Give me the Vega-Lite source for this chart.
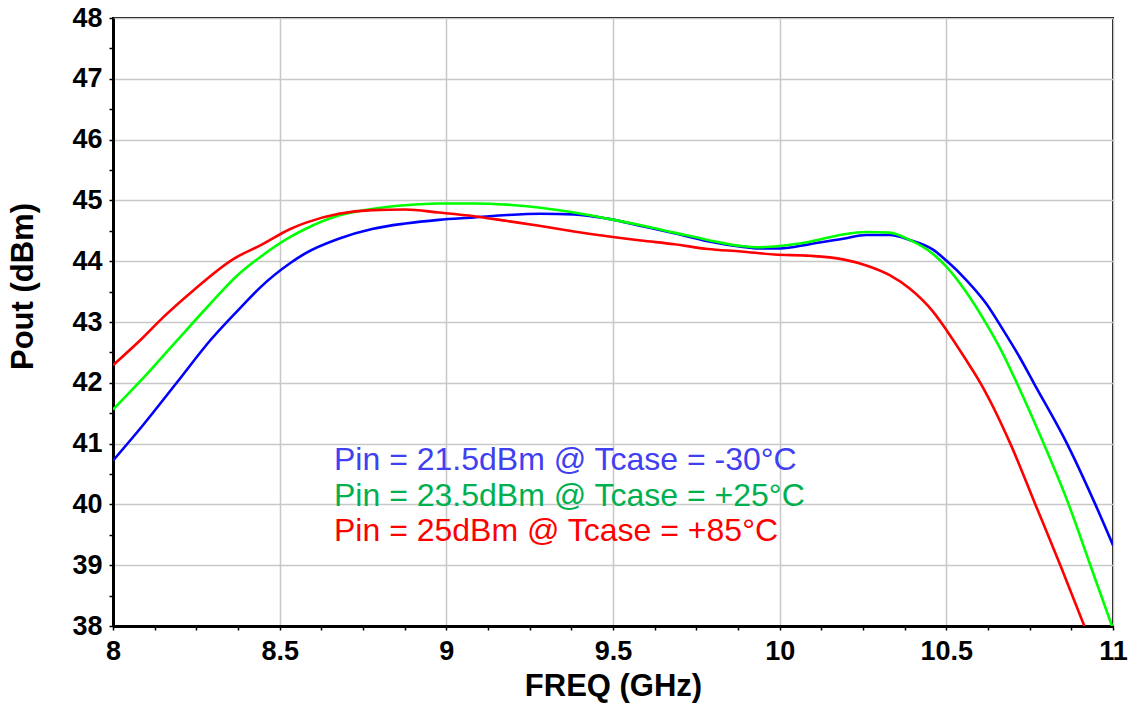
{
  "$schema": "https://vega.github.io/schema/vega-lite/v6.json",
  "width": 1000,
  "height": 608,
  "autosize": {"type": "none"},
  "padding": {"left": 113, "top": 18, "right": 21, "bottom": 80},
  "background": "white",
  "config": {
    "font": "Liberation Sans",
    "view": {"stroke": "black", "strokeWidth": 2},
    "axis": {
      "domainColor": "black",
      "domainWidth": 3,
      "tickColor": "black",
      "tickWidth": 1.5,
      "tickSize": 4,
      "gridColor": "#c8c8c8",
      "gridWidth": 1.5,
      "labelFont": "Liberation Sans",
      "labelFontWeight": "bold",
      "labelFontSize": 27,
      "labelColor": "black",
      "labelOverlap": false,
      "labelFlush": false,
      "labelBound": false,
      "titleFont": "Liberation Sans",
      "titleFontWeight": "bold",
      "titleFontSize": 31,
      "titleColor": "black"
    }
  },
  "data": {
    "values": [
      {"series": "Pin = 21.5dBm @ Tcase = -30°C", "f": 8.000, "p": 40.72},
      {"series": "Pin = 21.5dBm @ Tcase = -30°C", "f": 8.091, "p": 41.31},
      {"series": "Pin = 21.5dBm @ Tcase = -30°C", "f": 8.191, "p": 42.00},
      {"series": "Pin = 21.5dBm @ Tcase = -30°C", "f": 8.292, "p": 42.70},
      {"series": "Pin = 21.5dBm @ Tcase = -30°C", "f": 8.392, "p": 43.29},
      {"series": "Pin = 21.5dBm @ Tcase = -30°C", "f": 8.442, "p": 43.57},
      {"series": "Pin = 21.5dBm @ Tcase = -30°C", "f": 8.532, "p": 43.97},
      {"series": "Pin = 21.5dBm @ Tcase = -30°C", "f": 8.577, "p": 44.13},
      {"series": "Pin = 21.5dBm @ Tcase = -30°C", "f": 8.677, "p": 44.37},
      {"series": "Pin = 21.5dBm @ Tcase = -30°C", "f": 8.777, "p": 44.53},
      {"series": "Pin = 21.5dBm @ Tcase = -30°C", "f": 8.877, "p": 44.62},
      {"series": "Pin = 21.5dBm @ Tcase = -30°C", "f": 8.977, "p": 44.68},
      {"series": "Pin = 21.5dBm @ Tcase = -30°C", "f": 9.083, "p": 44.72},
      {"series": "Pin = 21.5dBm @ Tcase = -30°C", "f": 9.183, "p": 44.76},
      {"series": "Pin = 21.5dBm @ Tcase = -30°C", "f": 9.283, "p": 44.78},
      {"series": "Pin = 21.5dBm @ Tcase = -30°C", "f": 9.383, "p": 44.77},
      {"series": "Pin = 21.5dBm @ Tcase = -30°C", "f": 9.483, "p": 44.70},
      {"series": "Pin = 21.5dBm @ Tcase = -30°C", "f": 9.584, "p": 44.58},
      {"series": "Pin = 21.5dBm @ Tcase = -30°C", "f": 9.684, "p": 44.46},
      {"series": "Pin = 21.5dBm @ Tcase = -30°C", "f": 9.784, "p": 44.33},
      {"series": "Pin = 21.5dBm @ Tcase = -30°C", "f": 9.884, "p": 44.24},
      {"series": "Pin = 21.5dBm @ Tcase = -30°C", "f": 9.94, "p": 44.21},
      {"series": "Pin = 21.5dBm @ Tcase = -30°C", "f": 10.00, "p": 44.21},
      {"series": "Pin = 21.5dBm @ Tcase = -30°C", "f": 10.09, "p": 44.28},
      {"series": "Pin = 21.5dBm @ Tcase = -30°C", "f": 10.19, "p": 44.37},
      {"series": "Pin = 21.5dBm @ Tcase = -30°C", "f": 10.26, "p": 44.43},
      {"series": "Pin = 21.5dBm @ Tcase = -30°C", "f": 10.33, "p": 44.43},
      {"series": "Pin = 21.5dBm @ Tcase = -30°C", "f": 10.39, "p": 44.35},
      {"series": "Pin = 21.5dBm @ Tcase = -30°C", "f": 10.46, "p": 44.19},
      {"series": "Pin = 21.5dBm @ Tcase = -30°C", "f": 10.50, "p": 44.01},
      {"series": "Pin = 21.5dBm @ Tcase = -30°C", "f": 10.56, "p": 43.69},
      {"series": "Pin = 21.5dBm @ Tcase = -30°C", "f": 10.62, "p": 43.30},
      {"series": "Pin = 21.5dBm @ Tcase = -30°C", "f": 10.667, "p": 42.90},
      {"series": "Pin = 21.5dBm @ Tcase = -30°C", "f": 10.72, "p": 42.42},
      {"series": "Pin = 21.5dBm @ Tcase = -30°C", "f": 10.762, "p": 42.00},
      {"series": "Pin = 21.5dBm @ Tcase = -30°C", "f": 10.862, "p": 41.00},
      {"series": "Pin = 21.5dBm @ Tcase = -30°C", "f": 10.947, "p": 40.00},
      {"series": "Pin = 21.5dBm @ Tcase = -30°C", "f": 11.000, "p": 39.33},

      {"series": "Pin = 23.5dBm @ Tcase = +25°C", "f": 8.000, "p": 41.56},
      {"series": "Pin = 23.5dBm @ Tcase = +25°C", "f": 8.091, "p": 42.08},
      {"series": "Pin = 23.5dBm @ Tcase = +25°C", "f": 8.191, "p": 42.69},
      {"series": "Pin = 23.5dBm @ Tcase = +25°C", "f": 8.292, "p": 43.30},
      {"series": "Pin = 23.5dBm @ Tcase = +25°C", "f": 8.372, "p": 43.76},
      {"series": "Pin = 23.5dBm @ Tcase = +25°C", "f": 8.442, "p": 44.07},
      {"series": "Pin = 23.5dBm @ Tcase = +25°C", "f": 8.532, "p": 44.40},
      {"series": "Pin = 23.5dBm @ Tcase = +25°C", "f": 8.577, "p": 44.53},
      {"series": "Pin = 23.5dBm @ Tcase = +25°C", "f": 8.677, "p": 44.75},
      {"series": "Pin = 23.5dBm @ Tcase = +25°C", "f": 8.777, "p": 44.86},
      {"series": "Pin = 23.5dBm @ Tcase = +25°C", "f": 8.877, "p": 44.92},
      {"series": "Pin = 23.5dBm @ Tcase = +25°C", "f": 8.977, "p": 44.95},
      {"series": "Pin = 23.5dBm @ Tcase = +25°C", "f": 9.083, "p": 44.95},
      {"series": "Pin = 23.5dBm @ Tcase = +25°C", "f": 9.183, "p": 44.93},
      {"series": "Pin = 23.5dBm @ Tcase = +25°C", "f": 9.283, "p": 44.88},
      {"series": "Pin = 23.5dBm @ Tcase = +25°C", "f": 9.383, "p": 44.80},
      {"series": "Pin = 23.5dBm @ Tcase = +25°C", "f": 9.483, "p": 44.70},
      {"series": "Pin = 23.5dBm @ Tcase = +25°C", "f": 9.584, "p": 44.59},
      {"series": "Pin = 23.5dBm @ Tcase = +25°C", "f": 9.684, "p": 44.47},
      {"series": "Pin = 23.5dBm @ Tcase = +25°C", "f": 9.784, "p": 44.35},
      {"series": "Pin = 23.5dBm @ Tcase = +25°C", "f": 9.884, "p": 44.25},
      {"series": "Pin = 23.5dBm @ Tcase = +25°C", "f": 9.94, "p": 44.23},
      {"series": "Pin = 23.5dBm @ Tcase = +25°C", "f": 10.00, "p": 44.25},
      {"series": "Pin = 23.5dBm @ Tcase = +25°C", "f": 10.09, "p": 44.32},
      {"series": "Pin = 23.5dBm @ Tcase = +25°C", "f": 10.19, "p": 44.44},
      {"series": "Pin = 23.5dBm @ Tcase = +25°C", "f": 10.26, "p": 44.48},
      {"series": "Pin = 23.5dBm @ Tcase = +25°C", "f": 10.33, "p": 44.47},
      {"series": "Pin = 23.5dBm @ Tcase = +25°C", "f": 10.39, "p": 44.35},
      {"series": "Pin = 23.5dBm @ Tcase = +25°C", "f": 10.46, "p": 44.12},
      {"series": "Pin = 23.5dBm @ Tcase = +25°C", "f": 10.50, "p": 43.91},
      {"series": "Pin = 23.5dBm @ Tcase = +25°C", "f": 10.56, "p": 43.49},
      {"series": "Pin = 23.5dBm @ Tcase = +25°C", "f": 10.62, "p": 42.97},
      {"series": "Pin = 23.5dBm @ Tcase = +25°C", "f": 10.663, "p": 42.55},
      {"series": "Pin = 23.5dBm @ Tcase = +25°C", "f": 10.707, "p": 42.05},
      {"series": "Pin = 23.5dBm @ Tcase = +25°C", "f": 10.792, "p": 41.00},
      {"series": "Pin = 23.5dBm @ Tcase = +25°C", "f": 10.867, "p": 40.00},
      {"series": "Pin = 23.5dBm @ Tcase = +25°C", "f": 10.932, "p": 39.00},
      {"series": "Pin = 23.5dBm @ Tcase = +25°C", "f": 10.997, "p": 38.00},

      {"series": "Pin = 25dBm @ Tcase = +85°C", "f": 8.000, "p": 42.29},
      {"series": "Pin = 25dBm @ Tcase = +85°C", "f": 8.091, "p": 42.75},
      {"series": "Pin = 25dBm @ Tcase = +85°C", "f": 8.151, "p": 43.08},
      {"series": "Pin = 25dBm @ Tcase = +85°C", "f": 8.241, "p": 43.52},
      {"series": "Pin = 25dBm @ Tcase = +85°C", "f": 8.362, "p": 44.04},
      {"series": "Pin = 25dBm @ Tcase = +85°C", "f": 8.442, "p": 44.26},
      {"series": "Pin = 25dBm @ Tcase = +85°C", "f": 8.532, "p": 44.53},
      {"series": "Pin = 25dBm @ Tcase = +85°C", "f": 8.577, "p": 44.63},
      {"series": "Pin = 25dBm @ Tcase = +85°C", "f": 8.677, "p": 44.78},
      {"series": "Pin = 25dBm @ Tcase = +85°C", "f": 8.777, "p": 44.84},
      {"series": "Pin = 25dBm @ Tcase = +85°C", "f": 8.877, "p": 44.85},
      {"series": "Pin = 25dBm @ Tcase = +85°C", "f": 8.977, "p": 44.80},
      {"series": "Pin = 25dBm @ Tcase = +85°C", "f": 9.083, "p": 44.74},
      {"series": "Pin = 25dBm @ Tcase = +85°C", "f": 9.183, "p": 44.66},
      {"series": "Pin = 25dBm @ Tcase = +85°C", "f": 9.283, "p": 44.58},
      {"series": "Pin = 25dBm @ Tcase = +85°C", "f": 9.383, "p": 44.49},
      {"series": "Pin = 25dBm @ Tcase = +85°C", "f": 9.483, "p": 44.41},
      {"series": "Pin = 25dBm @ Tcase = +85°C", "f": 9.584, "p": 44.34},
      {"series": "Pin = 25dBm @ Tcase = +85°C", "f": 9.684, "p": 44.28},
      {"series": "Pin = 25dBm @ Tcase = +85°C", "f": 9.784, "p": 44.20},
      {"series": "Pin = 25dBm @ Tcase = +85°C", "f": 9.884, "p": 44.16},
      {"series": "Pin = 25dBm @ Tcase = +85°C", "f": 9.984, "p": 44.11},
      {"series": "Pin = 25dBm @ Tcase = +85°C", "f": 10.09, "p": 44.09},
      {"series": "Pin = 25dBm @ Tcase = +85°C", "f": 10.19, "p": 44.03},
      {"series": "Pin = 25dBm @ Tcase = +85°C", "f": 10.26, "p": 43.93},
      {"series": "Pin = 25dBm @ Tcase = +85°C", "f": 10.33, "p": 43.77},
      {"series": "Pin = 25dBm @ Tcase = +85°C", "f": 10.39, "p": 43.55},
      {"series": "Pin = 25dBm @ Tcase = +85°C", "f": 10.46, "p": 43.17},
      {"series": "Pin = 25dBm @ Tcase = +85°C", "f": 10.50, "p": 42.87},
      {"series": "Pin = 25dBm @ Tcase = +85°C", "f": 10.56, "p": 42.37},
      {"series": "Pin = 25dBm @ Tcase = +85°C", "f": 10.602, "p": 42.00},
      {"series": "Pin = 25dBm @ Tcase = +85°C", "f": 10.692, "p": 41.00},
      {"series": "Pin = 25dBm @ Tcase = +85°C", "f": 10.767, "p": 40.00},
      {"series": "Pin = 25dBm @ Tcase = +85°C", "f": 10.842, "p": 39.00},
      {"series": "Pin = 25dBm @ Tcase = +85°C", "f": 10.914, "p": 38.00}
    ]
  },
  "mark": {"type": "line", "interpolate": "monotone", "strokeWidth": 2.6, "clip": true},
  "encoding": {
    "x": {
      "field": "f",
      "type": "quantitative",
      "scale": {"domain": [8, 11], "nice": false, "zero": false},
      "axis": {
        "title": "FREQ (GHz)",
        "values": [8, 8.125, 8.25, 8.375, 8.5, 8.625, 8.75, 8.875, 9, 9.125, 9.25, 9.375, 9.5, 9.625, 9.75, 9.875, 10, 10.125, 10.25, 10.375, 10.5, 10.625, 10.75, 10.875, 11],
        "format": "~g",
        "labelExpr": "datum.value % 0.5 === 0 ? datum.label : ''",
        "gridOpacity": {"condition": {"test": "datum.value % 0.5 === 0", "value": 1}, "value": 0},
        "labelPadding": 8,
        "titleX": 500,
        "titleY": 69,
        "titleBaseline": "alphabetic",
        "titleAlign": "center"
      }
    },
    "y": {
      "field": "p",
      "type": "quantitative",
      "scale": {"domain": [38, 48], "nice": false, "zero": false},
      "axis": {
        "title": "Pout (dBm)",
        "values": [38, 38.5, 39, 39.5, 40, 40.5, 41, 41.5, 42, 42.5, 43, 43.5, 44, 44.5, 45, 45.5, 46, 46.5, 47, 47.5, 48],
        "format": "~g",
        "labelExpr": "datum.value % 1 === 0 ? datum.label : ''",
        "gridOpacity": {"condition": {"test": "datum.value % 1 === 0", "value": 1}, "value": 0},
        "labelPadding": 7,
        "titleAngle": -90,
        "titleX": -90,
        "titleY": 268,
        "titleAlign": "center",
        "titleBaseline": "middle"
      }
    },
    "color": {
      "field": "series",
      "type": "nominal",
      "scale": {
        "domain": ["Pin = 21.5dBm @ Tcase = -30°C", "Pin = 23.5dBm @ Tcase = +25°C", "Pin = 25dBm @ Tcase = +85°C"],
        "range": ["#0000ff", "#00ff00", "#ff0000"]
      },
      "legend": {
        "title": null,
        "orient": "none",
        "legendX": 189,
        "legendY": 426,
        "padding": 0,
        "symbolSize": 0,
        "symbolStrokeWidth": 0,
        "symbolOpacity": 0,
        "labelOffset": 0,
        "labelFont": "Liberation Sans",
        "labelFontSize": 32,
        "labelLimit": 0,
        "rowPadding": 3.5,
        "encode": {
          "labels": {
            "update": {
              "fill": {"signal": "datum.index === 0 ? '#4040f0' : (datum.index === 1 ? '#00b050' : '#ff0000')"}
            }
          }
        }
      }
    }
  }
}
